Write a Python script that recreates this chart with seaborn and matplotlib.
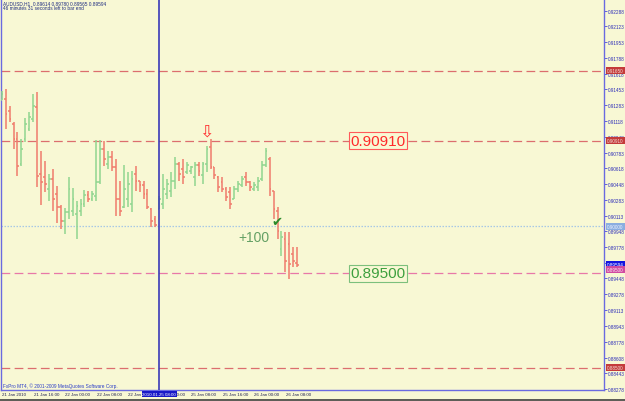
import numpy as np
import pandas as pd
import matplotlib
matplotlib.use("Agg")
import matplotlib.pyplot as plt
import seaborn as sns

# ---------------- data (AUDUSD H1) ----------------
opens = [0.91340,
    0.91351, 0.91224, 0.91086, 0.90927, 0.90661, 0.90927, 0.91033, 0.91139, 0.91266, 0.90555,
    0.90523, 0.90396, 0.90502, 0.90343, 0.90205, 0.90057, 0.90152, 0.90163, 0.90131, 0.90163,
    0.90237, 0.90332, 0.90290, 0.90322, 0.90470, 0.90821, 0.90661, 0.90736, 0.90630, 0.90290,
    0.90205, 0.90290, 0.90237, 0.90555, 0.90481, 0.90439, 0.90343, 0.90184, 0.90078, 0.90184,
    0.90237, 0.90343, 0.90375, 0.90481, 0.90661, 0.90608, 0.90577, 0.90587, 0.90523, 0.90651,
    0.90545, 0.90661, 0.90842, 0.90630, 0.90523, 0.90470, 0.90396, 0.90364, 0.90290, 0.90396,
    0.90439, 0.90523, 0.90470, 0.90396, 0.90417, 0.90502, 0.90651, 0.90714, 0.90375, 0.90163,
    0.89760, 0.89866, 0.89813, 0.89706, 0.89614]
highs = [0.91436,
    0.91457, 0.91277, 0.91107, 0.91001, 0.90927, 0.91149, 0.91213, 0.91404, 0.91425, 0.90799,
    0.90693, 0.90555, 0.90608, 0.90428, 0.90226, 0.90195, 0.90523, 0.90407, 0.90269, 0.90290,
    0.90386, 0.90375, 0.90375, 0.90916, 0.90916, 0.90905, 0.90799, 0.90799, 0.90714, 0.90481,
    0.90651, 0.90577, 0.90587, 0.90640, 0.90481, 0.90481, 0.90396, 0.90195, 0.90110, 0.90322,
    0.90555, 0.90502, 0.90577, 0.90736, 0.90683, 0.90714, 0.90683, 0.90640, 0.90683, 0.90683,
    0.90683, 0.90852, 0.90927, 0.90630, 0.90534, 0.90523, 0.90417, 0.90417, 0.90428, 0.90481,
    0.90534, 0.90577, 0.90481, 0.90470, 0.90523, 0.90693, 0.90831, 0.90736, 0.90375, 0.90205,
    0.89951, 0.89940, 0.89940, 0.89781, 0.89780]
lows = [0.91340,
    0.91033, 0.91107, 0.90821, 0.90534, 0.90640, 0.90895, 0.91012, 0.91107, 0.90417, 0.90226,
    0.90364, 0.90269, 0.90163, 0.90035, 0.89972, 0.89919, 0.90078, 0.90110, 0.89866, 0.90110,
    0.90205, 0.90258, 0.90269, 0.90269, 0.90449, 0.90640, 0.90608, 0.90587, 0.90110, 0.90110,
    0.90195, 0.90205, 0.90152, 0.90375, 0.90364, 0.90290, 0.90184, 0.89993, 0.89993, 0.90184,
    0.90184, 0.90290, 0.90311, 0.90396, 0.90481, 0.90449, 0.90555, 0.90555, 0.90428, 0.90534,
    0.90449, 0.90577, 0.90608, 0.90502, 0.90364, 0.90364, 0.90269, 0.90184, 0.90290, 0.90364,
    0.90417, 0.90428, 0.90375, 0.90375, 0.90375, 0.90481, 0.90630, 0.90322, 0.90078, 0.89866,
    0.89685, 0.89516, 0.89441, 0.89569, 0.89565]
closes = [0.91404,
    0.91192, 0.91139, 0.90927, 0.90640, 0.90821, 0.91086, 0.91160, 0.91277, 0.90534, 0.90470,
    0.90449, 0.90502, 0.90290, 0.90205, 0.90057, 0.90152, 0.90396, 0.90290, 0.90216, 0.90237,
    0.90332, 0.90290, 0.90343, 0.90470, 0.90821, 0.90714, 0.90736, 0.90630, 0.90290, 0.90163,
    0.90396, 0.90449, 0.90502, 0.90481, 0.90439, 0.90343, 0.90205, 0.90057, 0.90014, 0.90290,
    0.90396, 0.90449, 0.90481, 0.90661, 0.90555, 0.90523, 0.90651, 0.90630, 0.90651, 0.90587,
    0.90661, 0.90821, 0.90630, 0.90545, 0.90417, 0.90396, 0.90311, 0.90237, 0.90396, 0.90449,
    0.90502, 0.90470, 0.90417, 0.90439, 0.90481, 0.90651, 0.90799, 0.90396, 0.90184, 0.89951,
    0.89887, 0.89632, 0.89600, 0.89632, 0.89594]

date_labels = ["21 Jan 2010", "21 Jan 16:00", "22 Jan 00:00", "22 Jan 08:00", "22 Jan 16:00",
               "25 Jan 00:00", "25 Jan 08:00", "25 Jan 16:00", "26 Jan 00:00", "26 Jan 08:00"]
date_bars = [0, 8, 16, 24, 32, 40, 48, 56, 64, 72]

ytick_values = [0.92288, 0.92123, 0.91953, 0.91788, 0.91618, 0.91453, 0.91283, 0.91118,
                0.90948, 0.90783, 0.90618, 0.90448, 0.90283, 0.90113, 0.89948, 0.89778,
                0.89613, 0.89448, 0.89278, 0.89113, 0.88943, 0.88778, 0.88608, 0.88443, 0.88278]

red_levels = [0.91650, 0.90910, 0.88500]
target_level = 0.89500
round_level = 0.90000
vline_bar = 40
vline_label = "2010.01.25 08:00"

title_line1 = "AUDUSD,H1  0.89614 0.89780 0.89565 0.89594"
title_line2 = "46 minutes 31 seconds left to bar end"
copyright_text = "FxPro MT4, \u00a9 2001-2009 MetaQuotes Software Corp."

# ---------------- style ----------------
BG = "#f8f8d4"
sns.set_theme(style="white")
plt.rcParams["font.family"] = ["Liberation Sans", "DejaVu Sans"]

W, H = 625, 402
fig = plt.figure(figsize=(W / 100, H / 100), dpi=100, facecolor=BG)
ax_l, ax_r, ax_b, ax_t = 1.5, 604.0, 391.0, 0.0   # pixel edges of plot frame
ax = fig.add_axes([ax_l / W, (H - ax_b) / H, (ax_r - ax_l) / W, (ax_b - ax_t) / H])
ax.set_facecolor(BG)

# pixel <-> data mapping
x0_px, dx_px = 1.7, 3.94
ax.set_xlim((ax_l - x0_px) / dx_px, (ax_r - x0_px) / dx_px)
p_top, p_per_px = 0.92412, 0.0001061
ax.set_ylim(p_top - p_per_px * ax_b, p_top)

# ---------------- OHLC bars via seaborn lineplot ----------------
rows = []
for j, (o, h, l, c) in enumerate(zip(opens, highs, lows, closes)):
    d = "up" if c >= o else "down"
    rows += [(j, l, f"{j}hl", d), (j, h, f"{j}hl", d)]
    rows += [(j - 0.45, o, f"{j}o", d), (j, o, f"{j}o", d)]
    rows += [(j, c, f"{j}c", d), (j + 0.45, c, f"{j}c", d)]
df = pd.DataFrame(rows, columns=["bar", "price", "seg", "dir"])
sns.lineplot(data=df, x="bar", y="price", units="seg", estimator=None, hue="dir",
             palette={"up": "#90d690", "down": "#f07c6c"}, sort=False, legend=False,
             lw=1.1, ax=ax, solid_capstyle="butt", zorder=3)
ax.set_xlabel("")
ax.set_ylabel("")

# ---------------- horizontal levels ----------------
for lv in red_levels:
    ax.axhline(lv, color="#dc6e6e", lw=0.9, dashes=(7, 3.5), zorder=2)
ax.axhline(target_level, color="#e878a8", lw=0.9, dashes=(7, 3.5), zorder=2)
ax.axhline(round_level, color="#a8c8e4", lw=0.9, dashes=(1.2, 1.2), zorder=2)

# vertical line
ax.axvline(vline_bar, color="#3a3ab8", lw=1.2, zorder=4)

# ---------------- annotations inside plot ----------------
ax.text(95.5, 0.90910, "0.90910", color="#ff2a2a", fontsize=11, ha="center", va="center",
        zorder=6, bbox=dict(boxstyle="square,pad=0.08", fc=BG, ec="#ff5a5a", lw=0.8))
ax.text(95.5, target_level, "0.89500", color="#3ea03e", fontsize=11, ha="center", va="center",
        zorder=6, bbox=dict(boxstyle="square,pad=0.08", fc=BG, ec="#7cc07c", lw=0.8))
ax.text(63.9, 0.89885, "+100", color="#64a064", fontsize=10, ha="center", va="center", zorder=6)
ax.text(69.8, 0.89985, "\u2714", color="#2a8a2a", fontsize=9.5, ha="center", va="bottom",
        family="DejaVu Sans", zorder=6)
ax.text(52.0, 0.90915, "\u21e9", color="#ff3030", fontsize=12.5, ha="center", va="bottom",
        family="DejaVu Sans", zorder=6)

# header and copyright
ax.text(0.003, 0.997, title_line1, transform=ax.transAxes, fontsize=3.4, color="#1c2a80",
        ha="left", va="top")
ax.text(0.003, 0.984, title_line2, transform=ax.transAxes, fontsize=3.4, color="#1c2a80",
        ha="left", va="top")
ax.text(0.003, 0.004, copyright_text, transform=ax.transAxes, fontsize=3.4, color="#2a3cc8",
        ha="left", va="bottom")

# ---------------- right price axis ----------------
ax.yaxis.tick_right()
ax.set_yticks(ytick_values)
ax.set_yticklabels([f"{v:.5f}" for v in ytick_values])
ax.tick_params(axis="y", which="both", right=True, left=False, length=2.2, width=0.6,
               color="#4a4ad8", labelcolor="#2a2ab8", labelsize=3.3, pad=0.8, direction="out")
ax.set_xticks([])
for side in ["left", "right", "bottom"]:
    ax.spines[side].set_color("#6a6ae0")
    ax.spines[side].set_linewidth(1.0)
ax.spines["top"].set_visible(False)

# right price tags
tags = [(0.91650, "0.91650", "#c43a3a", "#f4e0d8"),
        (0.90910, "0.90910", "#c43a3a", "#f4e0d8"),
        (0.90000, "0.90000", "#8aaee0", "#eef2ff"),
        (0.89594, "0.89594", "#1414e0", "#ffffff"),
        (0.89540, "0.89500", "#d04aa0", "#ffe8f4"),
        (0.88500, "0.88500", "#c43a3a", "#f4e0d8")]
for val, txt, fc, tc in tags:
    ax.annotate(txt, xy=(1.0, val), xycoords=("axes fraction", "data"), xytext=(2.3, 0),
                textcoords="offset points", fontsize=3.3, color=tc, ha="left", va="center",
                annotation_clip=False, zorder=7,
                bbox=dict(boxstyle="square,pad=0.25", fc=fc, ec="none"))

# ---------------- bottom time axis ----------------
for b, lab in zip(date_bars, date_labels):
    ax.text(b + 0.15, -0.006, lab, transform=ax.get_xaxis_transform(), fontsize=3.2,
            color="#202050", ha="left", va="top", clip_on=False)
ax.text(vline_bar, -0.006, vline_label, transform=ax.get_xaxis_transform(), fontsize=3.2,
        color="#ffffff", ha="center", va="top", clip_on=False, zorder=8,
        bbox=dict(boxstyle="square,pad=0.2", fc="#1818c8", ec="none"))

# bottom dark edge of the window
fig.add_artist(plt.Line2D([0, 1], [0.0025, 0.0025], transform=fig.transFigure,
                          color="#404040", lw=1.2))

fig.savefig("out.png", dpi=100, facecolor=BG)
